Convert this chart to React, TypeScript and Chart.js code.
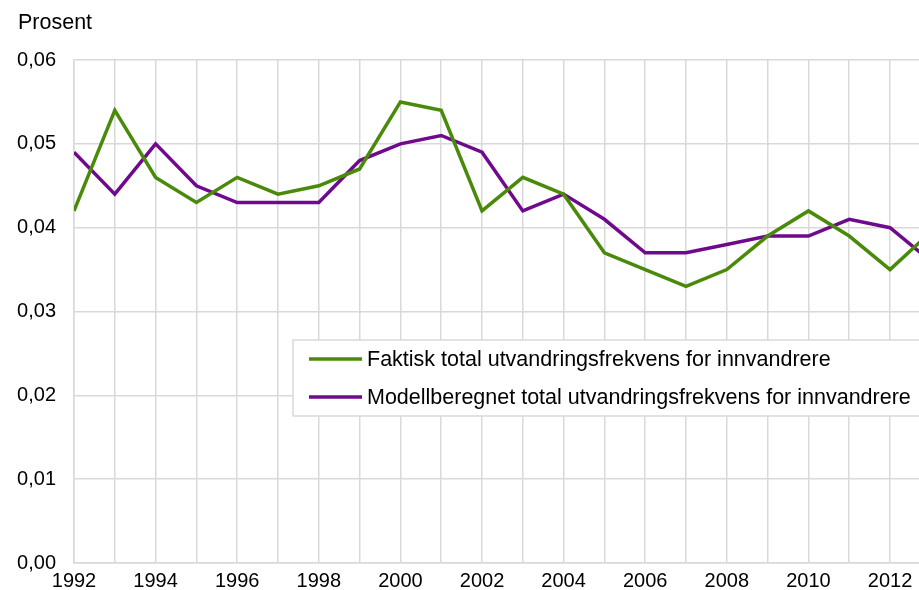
import React, { useEffect, useRef } from "react";
import { Chart, registerables } from "chart.js";

Chart.register(...registerables);

const years = [1992, 1993, 1994, 1995, 1996, 1997, 1998, 1999, 2000, 2001, 2002, 2003, 2004, 2005, 2006, 2007, 2008, 2009, 2010, 2011, 2012, 2013];
const faktisk = [0.042, 0.054, 0.046, 0.043, 0.046, 0.044, 0.045, 0.047, 0.055, 0.054, 0.042, 0.046, 0.044, 0.037, 0.035, 0.033, 0.035, 0.039, 0.042, 0.039, 0.035, 0.0395];
const modell = [0.049, 0.044, 0.050, 0.045, 0.043, 0.043, 0.043, 0.048, 0.050, 0.051, 0.049, 0.042, 0.044, 0.041, 0.037, 0.037, 0.038, 0.039, 0.039, 0.041, 0.040, 0.036];
const seriesLabels = ["Faktisk total utvandringsfrekvens for innvandrere", "Modellberegnet total utvandringsfrekvens for innvandrere"];
const seriesColors = ["#4a8a0b", "#700a8c"];
const yAxisTitle = "Prosent";
const xMin = 1992;
const xMax = 2012.71;
const FONT = "'Liberation Sans', Arial, sans-serif";

const legendPlugin = {
  id: "boxLegend",
  afterDatasetsDraw(chart: any) {
    const ctx = chart.ctx;
    const ca = chart.chartArea;
    const left = ca.left + 219;
    const top = ca.top + 280;
    const h = 76;
    ctx.save();
    ctx.fillStyle = "#ffffff";
    ctx.fillRect(left, top, 700, h);
    ctx.strokeStyle = "#d9d9d9";
    ctx.lineWidth = 1.5;
    ctx.strokeRect(left, top, 700, h);
    chart.data.datasets.forEach((ds: any, i: number) => {
      const y = top + 19 + i * 38;
      ctx.strokeStyle = ds.borderColor;
      ctx.lineWidth = 3.5;
      ctx.beginPath();
      ctx.moveTo(left + 16, y);
      ctx.lineTo(left + 69, y);
      ctx.stroke();
      ctx.fillStyle = "#000";
      ctx.font = `21.5px ${FONT}`;
      ctx.textBaseline = "middle";
      ctx.textAlign = "left";
      ctx.fillText(ds.label, left + 74, y + 1);
    });
    ctx.restore();
  },
  afterDraw(chart: any) {
    const ctx = chart.ctx;
    ctx.save();
    ctx.fillStyle = "#000";
    ctx.font = `21.5px ${FONT}`;
    ctx.textBaseline = "middle";
    ctx.textAlign = "left";
    ctx.fillText(yAxisTitle, 18, 23);
    ctx.restore();
  },
};

export default function App() {
  const ref = useRef<HTMLCanvasElement>(null);
  useEffect(() => {
    document.body.style.margin = "0";
    const canvas = ref.current!;
    const chart = new Chart(canvas, {
      type: "line",
      data: {
        datasets: [faktisk, modell].map((vals, i) => ({
          label: seriesLabels[i],
          data: years.map((yr, j) => ({ x: yr, y: vals[j] })),
          borderColor: seriesColors[i],
          backgroundColor: seriesColors[i],
          borderWidth: 3.5,
          pointRadius: 0,
          tension: 0,
          fill: false,
        })),
      },
      options: {
        animation: false,
        responsive: false,
        devicePixelRatio: 1,
        layout: { padding: { top: 60, left: 0, right: 0, bottom: 0 } },
        plugins: { legend: { display: false }, tooltip: { enabled: false }, title: { display: false } },
        scales: {
          x: {
            type: "linear",
            min: xMin,
            max: xMax,
            afterBuildTicks(scale: any) {
              const t = [];
              for (let y = 1992; y <= 2012; y++) t.push({ value: y });
              scale.ticks = t;
            },
            afterFit(scale: any) {
              scale.height = 27;
            },
            ticks: {
              autoSkip: false,
              maxRotation: 0,
              padding: 6,
              color: "#000",
              font: { family: FONT, size: 20 },
              callback: (v: any) => (Number(v) % 2 === 0 ? String(v) : ""),
            },
            grid: { color: "#d9d9d9", lineWidth: 1.5, drawTicks: false },
            border: { color: "#d9d9d9", width: 1.5 },
          },
          y: {
            min: 0,
            max: 0.06,
            afterFit(scale: any) {
              scale.width = 74;
              scale.paddingTop = 0;
              scale.paddingBottom = 0;
            },
            ticks: {
              stepSize: 0.01,
              padding: 18,
              color: "#000",
              font: { family: FONT, size: 20 },
              callback: (v: any) => Number(v).toFixed(2).replace(".", ","),
            },
            grid: { color: "#d9d9d9", lineWidth: 1.5, drawTicks: false },
            border: { color: "#d9d9d9", width: 1.5 },
          },
        },
      },
      plugins: [legendPlugin],
    });
    return () => chart.destroy();
  }, []);
  return <canvas ref={ref} width={919} height={590} style={{ display: "block" }} />;
}
